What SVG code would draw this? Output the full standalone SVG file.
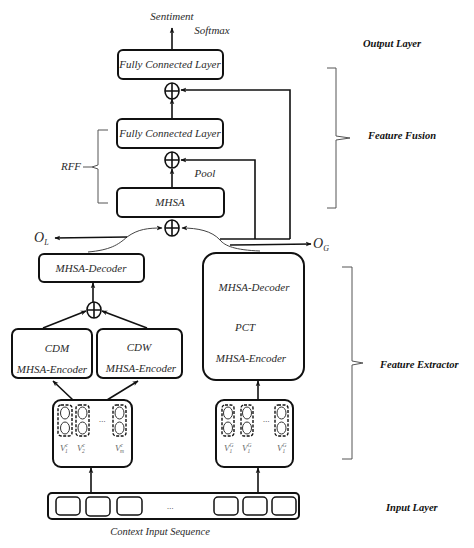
<svg xmlns="http://www.w3.org/2000/svg" width="474" height="548" viewBox="0 0 474 548">
<defs>
<marker id="ah" viewBox="0 0 10 10" refX="9" refY="5" markerWidth="6" markerHeight="6" orient="auto-start-reverse" markerUnits="userSpaceOnUse">
<path d="M0,1 L10,5 L0,9 L3,5 Z" fill="#111"/>
</marker>
</defs>
<style>
text{font-family:"Liberation Serif","DejaVu Serif",serif;font-style:italic;fill:#2a2a2a;}
.t{font-size:11px;text-anchor:middle;}
.lbl{font-size:10.5px;font-weight:bold;fill:#111;}
.box{fill:#fff;stroke:#111;stroke-width:2;}
.op{fill:#fff;stroke:#111;stroke-width:1.6;}
.ln{fill:none;stroke:#111;stroke-width:1.6;}
.ar{fill:none;stroke:#111;stroke-width:1.6;marker-end:url(#ah);}
.cv{fill:none;stroke:#444;stroke-width:1;}
.br{fill:none;stroke:#555;stroke-width:1;}
.dash{fill:none;stroke:#111;stroke-width:1.4;stroke-dasharray:3,1.5;}
.el{fill:#fff;stroke:#333;stroke-width:1;}
.sq{fill:#fff;stroke:#111;stroke-width:1.5;}
.v{font-size:9px;fill:#666;}
.vs{font-size:5.5px;fill:#666;}
</style>
<rect width="474" height="548" fill="#fff"/>

<g id="connectors">
<line class="ar" x1="172" y1="50" x2="172" y2="28"/>
<line class="ar" x1="172" y1="119" x2="172" y2="99"/>
<polyline class="ar" points="290,239 290,90 181,90"/>
<line class="ar" x1="172" y1="188" x2="172" y2="169"/>
<polyline class="ar" points="255,239 255,160 181,160"/>
<line class="ln" x1="220" y1="239" x2="290" y2="239"/>
<path class="cv" d="M88,252 C110,250 118,245 127,237 C138,229 148,228 162,228" marker-end="url(#ah)"/>
<line class="ar" x1="127" y1="237" x2="55" y2="238"/>
<path class="cv" d="M260,251 C235,250 225,246 220,240 C212,231 198,228 182,228" marker-end="url(#ah)"/>
<line class="ar" x1="230" y1="245" x2="311" y2="244"/>
<line class="ar" x1="93" y1="302" x2="93" y2="283"/>
<line class="ar" x1="43" y1="328" x2="86" y2="311"/>
<line class="ar" x1="147" y1="328" x2="102" y2="311"/>
<line class="ar" x1="73" y1="400" x2="53" y2="381"/>
<line class="ar" x1="107" y1="400" x2="138" y2="381"/>
<line class="ar" x1="258" y1="400" x2="258" y2="381"/>
<line class="ar" x1="91" y1="493" x2="91" y2="468"/>
<line class="ar" x1="258" y1="493" x2="258" y2="468"/>
</g>

<g id="sentiment">
<text class="t" x="172" y="20">Sentiment</text>
<text class="t" x="212" y="34">Softmax</text>
</g>

<g id="fc-top">
<rect class="box" x="118" y="50" width="105" height="29" rx="5"/>
<text class="t" x="170" y="68">Fully Connected Layer</text>
</g>
<g id="oplus-1">
<ellipse class="op" cx="172" cy="91" rx="7" ry="8"/>
<path class="ln" d="M165,91 H179 M172,83 V99"/>
</g>

<g id="fc-rff">
<rect class="box" x="117" y="119" width="106" height="29" rx="5"/>
<text class="t" x="170" y="137">Fully Connected Layer</text>
</g>
<g id="oplus-2">
<ellipse class="op" cx="172" cy="160" rx="7" ry="8"/>
<path class="ln" d="M165,160 H179 M172,152 V168"/>
</g>
<text class="t" x="205" y="177">Pool</text>

<g id="mhsa">
<rect class="box" x="117" y="188" width="107" height="29" rx="5"/>
<text class="t" x="170" y="206">MHSA</text>
</g>
<g id="oplus-3">
<ellipse class="op" cx="172" cy="228" rx="7" ry="8"/>
<path class="ln" d="M165,228 H179 M172,220 V236"/>
</g>

<g id="rff">
<path class="br" d="M108,130 H98 V165 L92,167 L98,169 V203 H108"/>
<line class="br" x1="83" y1="167" x2="92" y2="167"/>
<text class="t" x="71" y="170">RFF</text>
</g>

<g id="ol"><text x="34" y="242" style="font-size:14px">O<tspan style="font-size:8px" dy="3">L</tspan></text></g>
<g id="og"><text x="313" y="248" style="font-size:14px">O<tspan style="font-size:8px" dy="3">G</tspan></text></g>

<g id="mhsa-decoder">
<rect class="box" x="39" y="254" width="105" height="28" rx="5"/>
<text class="t" x="91" y="272">MHSA-Decoder</text>
</g>
<g id="oplus-4">
<ellipse class="op" cx="94" cy="310" rx="7" ry="8"/>
<path class="ln" d="M87,310 H101 M94,302 V318"/>
</g>

<g id="cdm">
<rect class="box" x="12" y="329" width="80" height="49" rx="6"/>
<text class="t" x="57" y="352">CDM</text>
<text class="t" x="52" y="373">MHSA-Encoder</text>
</g>
<g id="cdw">
<rect class="box" x="97" y="329" width="85" height="49" rx="6"/>
<text class="t" x="139" y="351">CDW</text>
<text class="t" x="141" y="372">MHSA-Encoder</text>
</g>

<g id="pct">
<rect class="box" x="203" y="253" width="101" height="127" rx="13"/>
<text class="t" x="254" y="291">MHSA-Decoder</text>
<text class="t" x="245" y="331">PCT</text>
<text class="t" x="251" y="362">MHSA-Encoder</text>
</g>

<g id="vec-left">
<rect class="box" x="53" y="400" width="79" height="67" rx="8"/>
<rect class="dash" x="58" y="405" width="14" height="31" rx="3"/>
<ellipse class="el" cx="65" cy="413" rx="4.5" ry="6"/><ellipse class="el" cx="65" cy="428" rx="4.5" ry="6"/>
<rect class="dash" x="76" y="405" width="13" height="31" rx="3"/>
<ellipse class="el" cx="82.5" cy="413" rx="4.5" ry="6"/><ellipse class="el" cx="82.5" cy="428" rx="4.5" ry="6"/>
<rect class="dash" x="113" y="405" width="13" height="31" rx="3"/>
<ellipse class="el" cx="119.5" cy="413" rx="4.5" ry="6"/><ellipse class="el" cx="119.5" cy="428" rx="4.5" ry="6"/>
<text x="102" y="424" style="font-size:9px;text-anchor:middle;fill:#444">···</text>
<text class="v" x="60" y="451">V<tspan class="vs" dy="-4">c</tspan><tspan class="vs" dx="-3" dy="6">1</tspan></text>
<text class="v" x="77" y="451">V<tspan class="vs" dy="-4">c</tspan><tspan class="vs" dx="-3" dy="6">2</tspan></text>
<text class="v" x="115" y="451">V<tspan class="vs" dy="-4">c</tspan><tspan class="vs" dx="-3" dy="6">m</tspan></text>
</g>

<g id="vec-right">
<rect class="box" x="216" y="400" width="77" height="67" rx="8"/>
<rect class="dash" x="222" y="405" width="12" height="31" rx="3"/>
<ellipse class="el" cx="228" cy="413" rx="4.5" ry="6"/><ellipse class="el" cx="228" cy="428" rx="4.5" ry="6"/>
<rect class="dash" x="241" y="405" width="12" height="31" rx="3"/>
<ellipse class="el" cx="247" cy="413" rx="4.5" ry="6"/><ellipse class="el" cx="247" cy="428" rx="4.5" ry="6"/>
<rect class="dash" x="275" y="405" width="13" height="31" rx="3"/>
<ellipse class="el" cx="281.5" cy="413" rx="4.5" ry="6"/><ellipse class="el" cx="281.5" cy="428" rx="4.5" ry="6"/>
<text x="266" y="424" style="font-size:9px;text-anchor:middle;fill:#444">···</text>
<text class="v" x="224" y="451">V<tspan class="vs" dy="-4">G</tspan><tspan class="vs" dx="-4" dy="6">1</tspan></text>
<text class="v" x="242" y="451">V<tspan class="vs" dy="-4">G</tspan><tspan class="vs" dx="-4" dy="6">1</tspan></text>
<text class="v" x="277" y="451">V<tspan class="vs" dy="-4">G</tspan><tspan class="vs" dx="-4" dy="6">1</tspan></text>
</g>

<g id="input-seq">
<rect class="box" x="48" y="493" width="251" height="26" rx="4"/>
<rect class="sq" x="56" y="497" width="24" height="18" rx="4"/>
<rect class="sq" x="86" y="497" width="24" height="19" rx="4"/>
<rect class="sq" x="117" y="497" width="25" height="18" rx="4"/>
<text x="170" y="511" style="font-size:9px;text-anchor:middle;fill:#444">···</text>
<rect class="sq" x="214" y="497" width="24" height="18" rx="4"/>
<rect class="sq" x="243" y="497" width="24" height="18" rx="4"/>
<rect class="sq" x="272" y="497" width="24" height="18" rx="4"/>
<text class="t" x="160" y="535" style="font-size:10.5px">Context Input Sequence</text>
</g>

<g id="layer-labels">
<text class="lbl" x="363" y="47">Output Layer</text>
<path class="br" d="M327,68 H336 V136 L350,138 L336,140 V208 H327"/>
<text class="lbl" x="368" y="139">Feature Fusion</text>
<path class="br" d="M342,267 H352 V361 L363,363 L352,365 V459 H342"/>
<text class="lbl" x="380" y="368">Feature Extractor</text>
<text class="lbl" x="386" y="511">Input Layer</text>
</g>
</svg>
